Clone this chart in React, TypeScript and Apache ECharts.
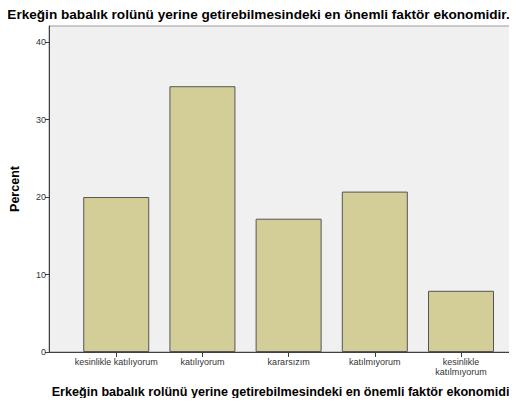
import React, { useEffect, useRef } from "react";
import * as echarts from "echarts";

const titleText = "Erkeğin babalık rolünü yerine getirebilmesindeki en önemli faktör ekonomidir.";
const xAxisTitle = "Erkeğin babalık rolünü yerine getirebilmesindeki en önemli faktör ekonomidir";
const categories = ["kesinlikle katılıyorum", "katılıyorum", "kararsızım", "katılmıyorum", "kesinlikle katılmıyorum"];
const percents = [20.0, 34.3, 17.2, 20.7, 7.9];
const yTicks = [0, 10, 20, 30, 40];

export default function App() {
  const ref = useRef<HTMLDivElement>(null);
  useEffect(() => {
    if (!ref.current) return;
    const chart = echarts.init(ref.current, null, { renderer: "svg" });
    const positions = categories.map((_, i) => i);
    const xMin = -0.78;
    const xMax = xMin + 474 / 87.3;
    chart.setOption({
      animation: false,
      backgroundColor: "#ffffff",
      textStyle: { fontFamily: "Liberation Sans, Arial, sans-serif" },
      title: {
        text: titleText,
        left: "center",
        top: 2,
        textStyle: { fontSize: 13.6, fontWeight: "bold", color: "#000", fontFamily: "Liberation Sans, Arial, sans-serif" },
      },
      grid: {
        left: 45,
        top: 26,
        right: -2,
        bottom: 54,
        show: true,
        backgroundColor: "#f0f0f0",
        borderColor: "#9a9a9a",
        borderWidth: 1,
      },
      xAxis: {
        type: "value",
        min: xMin,
        max: xMax,
        name: xAxisTitle,
        nameLocation: "middle",
        nameGap: 33,
        nameTextStyle: { fontSize: 12.6, fontWeight: "bold", color: "#000" },
        splitLine: { show: false },
        axisLine: { show: true, onZero: false, lineStyle: { color: "#404040", width: 1 } },
        axisTick: {
          show: true,
          length: 5,
          customValues: positions,
          lineStyle: { color: "#404040" },
        },
        axisLabel: {
          show: true,
          customValues: positions,
          fontSize: 9,
          color: "#333",
          margin: 5,
          lineHeight: 10,
          formatter: (v: number) => {
            const s = categories[Math.round(v)] ?? "";
            return s.length > 22 ? s.replace(" ", "\n") : s;
          },
        },
      },
      yAxis: {
        type: "value",
        min: 0,
        max: 42.07,
        name: "Percent",
        nameLocation: "middle",
        nameGap: 28,
        nameTextStyle: { fontSize: 12.5, fontWeight: "bold", color: "#000" },
        splitLine: { show: false },
        axisLine: { show: true, onZero: false, lineStyle: { color: "#404040", width: 1 } },
        axisTick: { show: true, length: 4, customValues: yTicks, lineStyle: { color: "#404040" } },
        axisLabel: {
          customValues: yTicks,
          fontSize: 9,
          color: "#333",
          margin: 3,
        },
      },
      series: [
        {
          type: "bar",
          barWidth: 66,
          data: percents.map((p, i) => [i, p]),
          itemStyle: { color: "#d3ce97", borderColor: "#555555", borderWidth: 1 },
        },
      ],
    });
    return () => chart.dispose();
  }, []);
  return <div ref={ref} style={{ width: 517, height: 406, margin: -8 }} />;
}
